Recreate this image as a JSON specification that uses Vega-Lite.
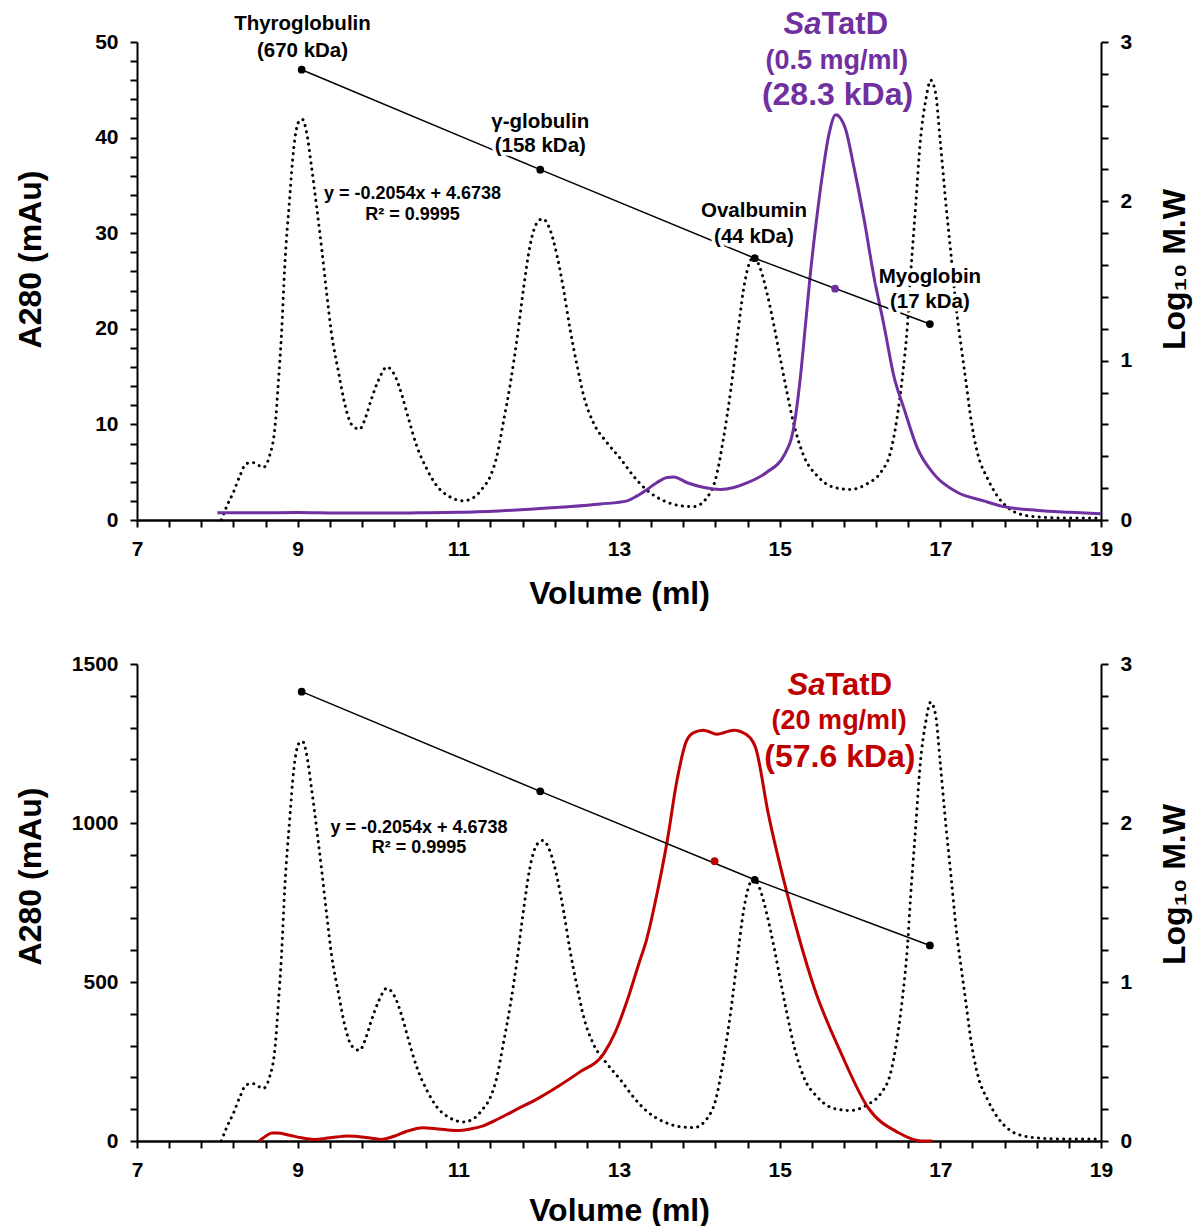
{
  "$schema": "https://vega.github.io/schema/vega-lite/v6.json",
  "background": "white",
  "padding": {"top": 8, "left": 14, "right": 6, "bottom": 0},
  "config": {
    "font": "Liberation Sans",
    "view": {"stroke": null},
    "axis": {
      "labelFont": "Liberation Sans", "labelFontWeight": "bold", "labelFontSize": 21, "labelColor": "black",
      "titleFont": "Liberation Sans", "titleFontWeight": "bold", "titleFontSize": 32, "titleColor": "black",
      "domainColor": "black", "tickColor": "black", "grid": false, "ticks": true, "tickSize": 7, "domainWidth": 2, "tickWidth": 2,
      "labelFlush": false, "labelOverlap": false, "labelBound": false
    },
    "text": {"font": "Liberation Sans", "fontWeight": "bold", "baseline": "middle"}
  },
  "datasets": {
    "stdTop": [
      {"v":8.05,"a":0.0},{"v":8.12,"a":1.5},{"v":8.20,"a":2.9},{"v":8.28,"a":4.6},{"v":8.36,"a":5.9},{"v":8.45,"a":6.0},{"v":8.57,"a":5.5},{"v":8.65,"a":6.7},{"v":8.72,"a":9.9},{"v":8.76,"a":14.4},{"v":8.80,"a":19.6},{"v":8.84,"a":26.6},{"v":8.90,"a":33.6},{"v":8.95,"a":38.8},{"v":9.01,"a":41.6},{"v":9.06,"a":41.9},{"v":9.11,"a":40.6},{"v":9.17,"a":37.1},{"v":9.24,"a":32.5},{"v":9.30,"a":28.3},{"v":9.36,"a":23.8},{"v":9.42,"a":19.6},{"v":9.51,"a":15.4},{"v":9.59,"a":12.0},{"v":9.67,"a":10.0},{"v":9.77,"a":9.5},{"v":9.84,"a":10.6},{"v":9.92,"a":12.7},{"v":10.01,"a":14.7},{"v":10.11,"a":16.0},{"v":10.21,"a":15.1},{"v":10.30,"a":13.0},{"v":10.38,"a":10.6},{"v":10.48,"a":7.8},{"v":10.61,"a":5.3},{"v":10.73,"a":3.6},{"v":10.90,"a":2.4},{"v":11.06,"a":2.0},{"v":11.20,"a":2.4},{"v":11.30,"a":3.3},{"v":11.40,"a":4.6},{"v":11.48,"a":6.7},{"v":11.56,"a":10.2},{"v":11.65,"a":14.4},{"v":11.73,"a":18.9},{"v":11.81,"a":24.1},{"v":11.89,"a":28.6},{"v":11.98,"a":31.1},{"v":12.05,"a":31.5},{"v":12.14,"a":30.4},{"v":12.23,"a":27.6},{"v":12.31,"a":24.1},{"v":12.39,"a":20.0},{"v":12.48,"a":16.1},{"v":12.56,"a":13.0},{"v":12.68,"a":10.2},{"v":12.85,"a":8.1},{"v":13.02,"a":6.4},{"v":13.18,"a":4.6},{"v":13.35,"a":3.1},{"v":13.56,"a":2.0},{"v":13.76,"a":1.5},{"v":13.93,"a":1.4},{"v":14.10,"a":2.4},{"v":14.20,"a":4.2},{"v":14.30,"a":8.5},{"v":14.39,"a":13.5},{"v":14.47,"a":18.9},{"v":14.55,"a":24.1},{"v":14.62,"a":26.8},{"v":14.68,"a":27.5},{"v":14.75,"a":26.5},{"v":14.84,"a":23.8},{"v":14.93,"a":20.3},{"v":15.01,"a":16.8},{"v":15.09,"a":13.4},{"v":15.18,"a":9.9},{"v":15.30,"a":6.7},{"v":15.47,"a":4.6},{"v":15.68,"a":3.4},{"v":15.88,"a":3.2},{"v":16.09,"a":3.8},{"v":16.26,"a":5.0},{"v":16.38,"a":7.1},{"v":16.46,"a":10.6},{"v":16.53,"a":15.1},{"v":16.59,"a":20.3},{"v":16.63,"a":25.6},{"v":16.69,"a":32.5},{"v":16.75,"a":39.5},{"v":16.82,"a":44.0},{"v":16.88,"a":46.0},{"v":16.94,"a":44.7},{"v":17.00,"a":39.5},{"v":17.07,"a":33.0},{"v":17.13,"a":28.0},{"v":17.20,"a":22.0},{"v":17.27,"a":17.5},{"v":17.32,"a":14.4},{"v":17.38,"a":10.6},{"v":17.46,"a":7.1},{"v":17.59,"a":4.3},{"v":17.71,"a":2.5},{"v":17.84,"a":1.3},{"v":18.00,"a":0.6},{"v":18.25,"a":0.3},{"v":18.60,"a":0.2},{"v":19.00,"a":0.2}
    ],
    "sampleTop": [
      {"v":8.00,"a":0.75},{"v":8.5,"a":0.75},{"v":9.0,"a":0.78},{"v":9.5,"a":0.72},{"v":10.0,"a":0.72},{"v":10.5,"a":0.75},{"v":11.0,"a":0.8},{"v":11.5,"a":0.95},{"v":11.94,"a":1.15},{"v":12.4,"a":1.4},{"v":12.77,"a":1.67},{"v":13.10,"a":2.0},{"v":13.22,"a":2.5},{"v":13.35,"a":3.2},{"v":13.47,"a":3.9},{"v":13.60,"a":4.45},{"v":13.68,"a":4.5},{"v":13.85,"a":3.9},{"v":14.06,"a":3.4},{"v":14.26,"a":3.2},{"v":14.43,"a":3.4},{"v":14.60,"a":3.9},{"v":14.84,"a":5.0},{"v":15.05,"a":6.7},{"v":15.18,"a":9.9},{"v":15.26,"a":15.1},{"v":15.32,"a":20.3},{"v":15.38,"a":25.6},{"v":15.45,"a":30.8},{"v":15.53,"a":36.0},{"v":15.61,"a":40.2},{"v":15.70,"a":42.4},{"v":15.76,"a":42.0},{"v":15.82,"a":40.9},{"v":15.92,"a":37.1},{"v":16.05,"a":31.5},{"v":16.17,"a":25.6},{"v":16.30,"a":20.3},{"v":16.42,"a":15.1},{"v":16.55,"a":11.6},{"v":16.71,"a":7.6},{"v":16.92,"a":4.8},{"v":17.21,"a":2.9},{"v":17.54,"a":2.0},{"v":17.79,"a":1.4},{"v":18.21,"a":1.0},{"v":18.62,"a":0.8},{"v":19.00,"a":0.65}
    ],
    "stdBot": [
      {"v":8.05,"a":0},{"v":8.12,"a":45},{"v":8.20,"a":87},{"v":8.28,"a":138},{"v":8.36,"a":177},{"v":8.45,"a":180},{"v":8.57,"a":165},{"v":8.65,"a":201},{"v":8.72,"a":297},{"v":8.76,"a":432},{"v":8.80,"a":588},{"v":8.84,"a":798},{"v":8.90,"a":1008},{"v":8.95,"a":1164},{"v":9.01,"a":1248},{"v":9.06,"a":1257},{"v":9.11,"a":1218},{"v":9.17,"a":1113},{"v":9.24,"a":975},{"v":9.30,"a":849},{"v":9.36,"a":714},{"v":9.42,"a":588},{"v":9.51,"a":462},{"v":9.59,"a":360},{"v":9.67,"a":300},{"v":9.77,"a":285},{"v":9.84,"a":318},{"v":9.92,"a":381},{"v":10.01,"a":441},{"v":10.11,"a":480},{"v":10.21,"a":453},{"v":10.30,"a":390},{"v":10.38,"a":318},{"v":10.48,"a":234},{"v":10.61,"a":159},{"v":10.73,"a":108},{"v":10.90,"a":72},{"v":11.06,"a":60},{"v":11.20,"a":72},{"v":11.30,"a":99},{"v":11.40,"a":138},{"v":11.48,"a":201},{"v":11.56,"a":306},{"v":11.65,"a":432},{"v":11.73,"a":567},{"v":11.81,"a":723},{"v":11.89,"a":858},{"v":11.98,"a":933},{"v":12.05,"a":945},{"v":12.14,"a":912},{"v":12.23,"a":828},{"v":12.31,"a":723},{"v":12.39,"a":600},{"v":12.48,"a":483},{"v":12.56,"a":390},{"v":12.68,"a":306},{"v":12.85,"a":243},{"v":13.02,"a":192},{"v":13.18,"a":138},{"v":13.35,"a":93},{"v":13.56,"a":60},{"v":13.76,"a":45},{"v":13.93,"a":42},{"v":14.10,"a":72},{"v":14.20,"a":126},{"v":14.30,"a":255},{"v":14.39,"a":405},{"v":14.47,"a":567},{"v":14.55,"a":723},{"v":14.62,"a":804},{"v":14.68,"a":825},{"v":14.75,"a":795},{"v":14.84,"a":714},{"v":14.93,"a":609},{"v":15.01,"a":504},{"v":15.09,"a":402},{"v":15.18,"a":297},{"v":15.30,"a":201},{"v":15.47,"a":138},{"v":15.68,"a":102},{"v":15.88,"a":96},{"v":16.09,"a":114},{"v":16.26,"a":150},{"v":16.38,"a":213},{"v":16.46,"a":318},{"v":16.53,"a":453},{"v":16.59,"a":609},{"v":16.63,"a":768},{"v":16.69,"a":975},{"v":16.75,"a":1185},{"v":16.82,"a":1320},{"v":16.88,"a":1380},{"v":16.94,"a":1341},{"v":17.00,"a":1185},{"v":17.07,"a":990},{"v":17.13,"a":840},{"v":17.20,"a":660},{"v":17.27,"a":525},{"v":17.32,"a":432},{"v":17.38,"a":318},{"v":17.46,"a":213},{"v":17.59,"a":129},{"v":17.71,"a":75},{"v":17.84,"a":39},{"v":18.00,"a":18},{"v":18.25,"a":9},{"v":18.60,"a":6},{"v":19.00,"a":6}
    ],
    "sampleBot": [
      {"v":8.52,"a":0},{"v":8.60,"a":15},{"v":8.68,"a":25},{"v":8.75,"a":25},{"v":8.90,"a":18},{"v":9.05,"a":10},{"v":9.20,"a":5},{"v":9.40,"a":10},{"v":9.63,"a":16},{"v":9.85,"a":11},{"v":10.04,"a":5},{"v":10.20,"a":15},{"v":10.35,"a":30},{"v":10.56,"a":42},{"v":10.75,"a":38},{"v":10.97,"a":33},{"v":11.15,"a":38},{"v":11.30,"a":47},{"v":11.50,"a":70},{"v":11.73,"a":100},{"v":12.00,"a":135},{"v":12.25,"a":173},{"v":12.50,"a":215},{"v":12.81,"a":275},{"v":12.95,"a":340},{"v":13.10,"a":440},{"v":13.25,"a":560},{"v":13.34,"a":630},{"v":13.48,"a":786},{"v":13.60,"a":943},{"v":13.72,"a":1132},{"v":13.84,"a":1258},{"v":13.93,"a":1284},{"v":14.05,"a":1292},{"v":14.22,"a":1279},{"v":14.43,"a":1292},{"v":14.58,"a":1279},{"v":14.70,"a":1237},{"v":14.86,"a":1027},{"v":15.08,"a":791},{"v":15.24,"a":640},{"v":15.43,"a":482},{"v":15.77,"a":273},{"v":16.10,"a":105},{"v":16.48,"a":26},{"v":16.77,"a":0},{"v":16.90,"a":0}
    ],
    "calib": [
      {"v":9.05,"m":2.826},{"v":12.02,"m":2.199},{"v":14.69,"m":1.643},{"v":16.87,"m":1.230}
    ],
    "stdLabels": [
      {"v":9.06,"m":3.114,"t":"Thyroglobulin"},{"v":9.06,"m":2.946,"t":"(670 kDa)"},
      {"v":12.02,"m":2.497,"t":"γ-globulin"},{"v":12.02,"m":2.350,"t":"(158 kDa)"},
      {"v":14.68,"m":1.937,"t":"Ovalbumin"},{"v":14.68,"m":1.775,"t":"(44 kDa)"},
      {"v":16.87,"m":1.524,"t":"Myoglobin"},{"v":16.87,"m":1.367,"t":"(17 kDa)"}
    ]
  },
  "spacing": 44,
  "vconcat": [
    {
      "width": 964,
      "height": 478,
      "encoding": {
        "x": {"field": "v", "type": "quantitative", "scale": {"domain": [7, 19], "nice": false, "zero": false},
          "axis": {"title": "Volume (ml)", "values": [7,7.4,7.8,8.2,8.6,9,9.4,9.8,10.2,10.6,11,11.4,11.8,12.2,12.6,13,13.4,13.8,14.2,14.6,15,15.4,15.8,16.2,16.6,17,17.4,17.8,18.2,18.6,19],
            "labelExpr": "abs((datum.value-7)/2 - round((datum.value-7)/2)) < 0.01 ? format(round(datum.value),'d') : ''",
            "labelPadding": 11, "titlePadding": 19, "domainWidth": 2.5}}
      },
      "layer": [
        {
          "encoding": {
            "y": {"field": "a", "type": "quantitative", "scale": {"domain": [0, 50], "nice": false},
              "axis": {"title": "A280 (mAu)", "orient": "left", "values": [0,2,4,6,8,10,12,14,16,18,20,22,24,26,28,30,32,34,36,38,40,42,44,46,48,50],
                "labelExpr": "datum.value % 10 == 0 ? format(datum.value,'d') : ''", "labelPadding": 12, "titlePadding": 47, "titleY": 217}}
          },
          "layer": [
            {"data": {"name": "stdTop"}, "mark": {"type": "line", "color": "black", "strokeWidth": 3, "strokeDash": [0.1, 6.2], "strokeCap": "round", "interpolate": "monotone"}},
            {"data": {"name": "sampleTop"}, "mark": {"type": "line", "color": "#7030A0", "strokeWidth": 3, "interpolate": "monotone"}},
            {"data": {"values": [{"v":10.43,"a":34.1,"t":"y = -0.2054x + 4.6738"},{"v":10.43,"a":31.9,"t":"R² = 0.9995"}]},
              "mark": {"type": "text", "fontSize": 18, "color": "black"}, "encoding": {"text": {"field": "t"}}},
            {"data": {"values": [{"v":15.52,"a":51.8,"t":"Sa"}]}, "mark": {"type": "text", "fontSize": 31, "fontStyle": "italic", "align": "right", "color": "#7030A0"}, "encoding": {"text": {"field": "t"}}},
            {"data": {"values": [{"v":15.52,"a":51.8,"t":"TatD"}]}, "mark": {"type": "text", "fontSize": 31, "align": "left", "color": "#7030A0"}, "encoding": {"text": {"field": "t"}}},
            {"data": {"values": [{"v":15.71,"a":48.0,"t":"(0.5 mg/ml)"}]}, "mark": {"type": "text", "fontSize": 27, "color": "#7030A0"}, "encoding": {"text": {"field": "t"}}},
            {"data": {"values": [{"v":15.72,"a":44.5,"t":"(28.3 kDa)"}]}, "mark": {"type": "text", "fontSize": 32, "color": "#7030A0"}, "encoding": {"text": {"field": "t"}}}
          ]
        },
        {
          "encoding": {
            "y": {"field": "m", "type": "quantitative", "scale": {"domain": [0, 3], "nice": false},
              "axis": {"title": "Log₁₀ M.W", "orient": "right", "values": [0,0.2,0.4,0.6,0.8,1,1.2,1.4,1.6,1.8,2,2.2,2.4,2.6,2.8,3],
                "labelExpr": "abs(datum.value-round(datum.value)) < 0.01 ? format(round(datum.value),'d') : ''",
                "labelPadding": 12, "titlePadding": 28, "titleAngle": 270, "titleBaseline": "top", "titleY": 227}}
          },
          "layer": [
            {"data": {"name": "calib"}, "mark": {"type": "line", "color": "black", "strokeWidth": 1.5}},
            {"data": {"name": "calib"}, "mark": {"type": "point", "filled": true, "color": "black", "size": 60, "opacity": 1}},
            {"data": {"values": [{"v":15.69,"m":1.452}]}, "mark": {"type": "point", "filled": true, "color": "#7030A0", "size": 60, "opacity": 1}},
            {"data": {"name": "stdLabels"}, "mark": {"type": "text", "fontSize": 20.5, "color": "white", "stroke": "white", "strokeWidth": 7, "strokeJoin": "round"}, "encoding": {"text": {"field": "t"}}},
            {"data": {"name": "stdLabels"}, "mark": {"type": "text", "fontSize": 20.5, "color": "black"}, "encoding": {"text": {"field": "t"}}}
          ]
        }
      ],
      "resolve": {"scale": {"y": "independent"}}
    },
    {
      "width": 964,
      "height": 477,
      "encoding": {
        "x": {"field": "v", "type": "quantitative", "scale": {"domain": [7, 19], "nice": false, "zero": false},
          "axis": {"title": "Volume (ml)", "values": [7,7.4,7.8,8.2,8.6,9,9.4,9.8,10.2,10.6,11,11.4,11.8,12.2,12.6,13,13.4,13.8,14.2,14.6,15,15.4,15.8,16.2,16.6,17,17.4,17.8,18.2,18.6,19],
            "labelExpr": "abs((datum.value-7)/2 - round((datum.value-7)/2)) < 0.01 ? format(round(datum.value),'d') : ''",
            "labelPadding": 11, "titlePadding": 15, "domainWidth": 2.5}}
      },
      "layer": [
        {
          "encoding": {
            "y": {"field": "a", "type": "quantitative", "scale": {"domain": [0, 1500], "nice": false},
              "axis": {"title": "A280 (mAu)", "orient": "left", "values": [0,100,200,300,400,500,600,700,800,900,1000,1100,1200,1300,1400,1500],
                "labelExpr": "datum.value % 500 == 0 ? format(datum.value,'d') : ''", "labelPadding": 12, "titlePadding": 24, "titleY": 212}}
          },
          "layer": [
            {"data": {"name": "stdBot"}, "mark": {"type": "line", "color": "black", "strokeWidth": 3, "strokeDash": [0.1, 6.2], "strokeCap": "round", "interpolate": "monotone"}},
            {"data": {"name": "sampleBot"}, "mark": {"type": "line", "color": "#C00000", "strokeWidth": 3, "interpolate": "monotone"}},
            {"data": {"values": [{"v":10.51,"a":985,"t":"y = -0.2054x + 4.6738"},{"v":10.51,"a":920,"t":"R² = 0.9995"}]},
              "mark": {"type": "text", "fontSize": 18, "color": "black"}, "encoding": {"text": {"field": "t"}}},
            {"data": {"values": [{"v":15.57,"a":1430,"t":"Sa"}]}, "mark": {"type": "text", "fontSize": 31, "fontStyle": "italic", "align": "right", "color": "#C00000"}, "encoding": {"text": {"field": "t"}}},
            {"data": {"values": [{"v":15.57,"a":1430,"t":"TatD"}]}, "mark": {"type": "text", "fontSize": 31, "align": "left", "color": "#C00000"}, "encoding": {"text": {"field": "t"}}},
            {"data": {"values": [{"v":15.74,"a":1320,"t":"(20 mg/ml)"}]}, "mark": {"type": "text", "fontSize": 27, "color": "#C00000"}, "encoding": {"text": {"field": "t"}}},
            {"data": {"values": [{"v":15.75,"a":1207,"t":"(57.6 kDa)"}]}, "mark": {"type": "text", "fontSize": 32, "color": "#C00000"}, "encoding": {"text": {"field": "t"}}}
          ]
        },
        {
          "encoding": {
            "y": {"field": "m", "type": "quantitative", "scale": {"domain": [0, 3], "nice": false},
              "axis": {"title": "Log₁₀ M.W", "orient": "right", "values": [0,0.2,0.4,0.6,0.8,1,1.2,1.4,1.6,1.8,2,2.2,2.4,2.6,2.8,3],
                "labelExpr": "abs(datum.value-round(datum.value)) < 0.01 ? format(round(datum.value),'d') : ''",
                "labelPadding": 12, "titlePadding": 28, "titleAngle": 270, "titleBaseline": "top", "titleY": 220}}
          },
          "layer": [
            {"data": {"name": "calib"}, "mark": {"type": "line", "color": "black", "strokeWidth": 1.5}},
            {"data": {"name": "calib"}, "mark": {"type": "point", "filled": true, "color": "black", "size": 60, "opacity": 1}},
            {"data": {"values": [{"v":14.19,"m":1.760}]}, "mark": {"type": "point", "filled": true, "color": "#C00000", "size": 60, "opacity": 1}}
          ]
        }
      ],
      "resolve": {"scale": {"y": "independent"}}
    }
  ]
}
